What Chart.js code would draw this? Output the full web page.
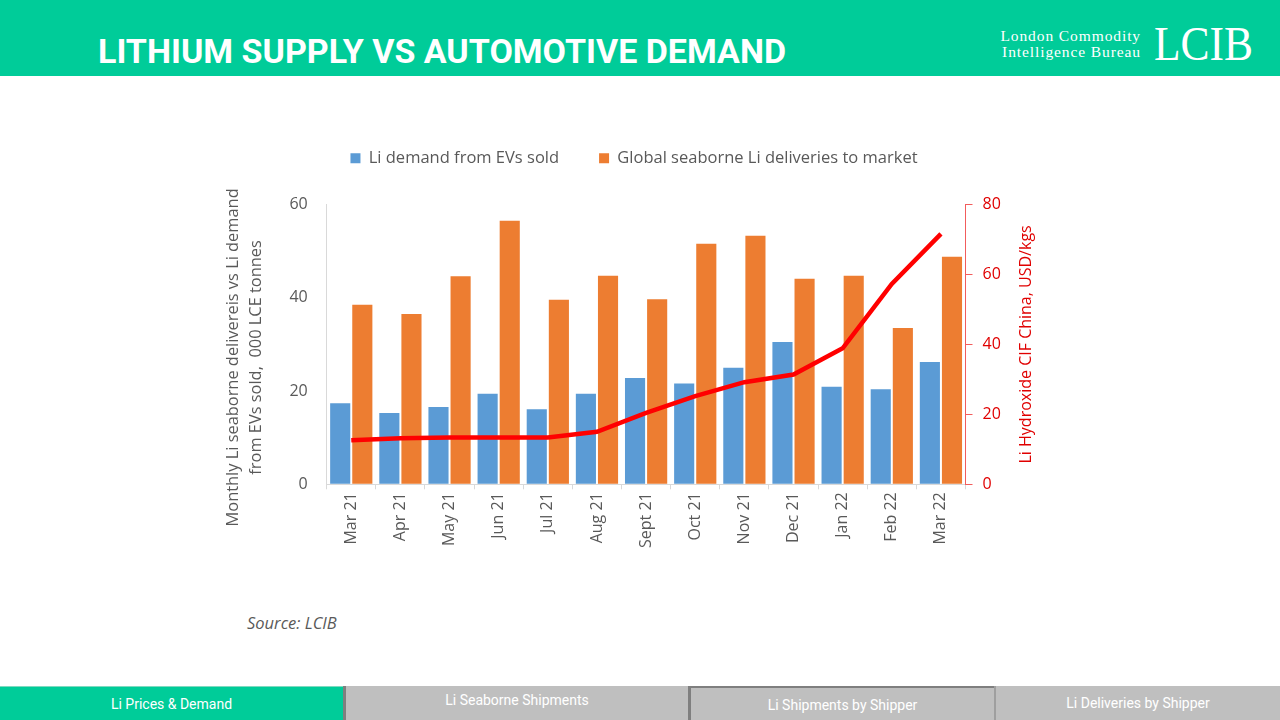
<!DOCTYPE html>
<html><head><meta charset="utf-8">
<script src="https://cdn.jsdelivr.net/npm/chart.js@4/dist/chart.umd.min.js"></script>
<style>
body{margin:0;width:1280px;height:720px;overflow:hidden;background:#fff;font-family:"Open Sans",sans-serif;position:relative}
#hdr{position:absolute;left:0;top:0;width:1280px;height:76px;background:#00CC99}
#title{position:absolute;left:98px;top:31px;font-weight:bold;font-size:34px;font-family:"Roboto",sans-serif;color:#fff;transform-origin:left top;white-space:nowrap;line-height:40px}
#logo1{position:absolute;left:980px;width:161px;top:28px;font-size:15.5px;font-family:"Liberation Serif",serif;color:#fff;text-align:right;line-height:16px;letter-spacing:0.9px}
#logo2{position:absolute;left:1154px;top:16px;font-size:48px;font-family:"Liberation Serif",serif;color:#fff;line-height:56px;transform-origin:left top}
#chartBox{position:absolute;left:210px;top:110px;width:884px;height:450px}
#src{position:absolute;left:247px;top:611px;font-style:italic;font-size:16.5px;color:#595959}
.tab{position:absolute;height:34px;line-height:34px;text-align:center;color:#fff;font-size:14px;font-family:"Roboto",sans-serif;box-sizing:border-box}
</style></head>
<body>
<div id="hdr"></div>
<div id="title">LITHIUM SUPPLY VS AUTOMOTIVE DEMAND</div>
<div id="logo1">London Commodity<br>Intelligence Bureau</div>
<div id="logo2">LCIB</div>
<div id="chartBox"><canvas id="c"></canvas></div>
<div id="src">Source: LCIB</div>
<div class="tab" style="left:0;top:686px;width:343px;background:#00CC99;border-top:1px solid #7fd9bf">Li Prices &amp; Demand</div>
<div class="tab" style="left:343px;top:686px;width:345px;background:#BFBFBF;border-left:3px solid #7f7f7f;line-height:28px">Li Seaborne Shipments</div>
<div class="tab" style="left:688px;top:686px;width:306px;background:#BFBFBF;border-left:3px solid #7f7f7f;border-top:2px solid #7f7f7f;">Li Shipments by Shipper</div>
<div class="tab" style="left:994px;top:686px;width:286px;background:#BFBFBF;border-left:2px solid #9f9f9f;">Li Deliveries by Shipper</div>
<script>
const months = ["Mar 21","Apr 21","May 21","Jun 21","Jul 21","Aug 21","Sept 21","Oct 21","Nov 21","Dec 21","Jan 22","Feb 22","Mar 22"];
const evDemand = [17.4,15.3,16.6,19.4,16.1,19.4,22.8,21.6,25.0,30.5,20.9,20.4,26.2];
const seaborne = [38.5,36.5,44.6,56.5,39.6,44.7,39.7,51.6,53.3,44.1,44.7,33.5,48.8];
const liPrice = [12.6,13.2,13.4,13.4,13.4,15.0,20.4,25.2,29.2,31.4,38.9,57.3,71.6];
const seriesNames = ["Li demand from EVs sold","Global seaborne Li deliveries to market","Li Hydroxide CIF China"];
const leftTitle = ["Monthly Li seaborne delivereis vs Li demand","from EVs sold,  000 LCE tonnes"];
const rightTitle = "Li Hydroxide CIF China, USD/kgs";

const grey = "#595959";
const redTxt = "#E00000";
const font = "'Open Sans', sans-serif";

const t = document.getElementById('title');
t.style.transform = 'scaleX(' + (688 / t.getBoundingClientRect().width) + ')';
const l2 = document.getElementById('logo2');
l2.style.transform = 'scaleX(' + (99 / l2.getBoundingClientRect().width) + ')';

const legendSpace = {id:'legendSpace', beforeInit(chart){
  const fit = chart.legend.fit;
  chart.legend.fit = function(){ fit.bind(chart.legend)(); this.height += 28; };
}};
const axisTitles = {id:'axisTitles', afterDraw(chart){
  const ctx = chart.ctx;
  const s1 = chart.scales.y1, s0 = chart.scales.y;
  ctx.save();
  ctx.font = "16px " + font;
  ctx.fillStyle = redTxt;
  ctx.textAlign = 'center'; ctx.textBaseline = 'middle';
  ctx.translate(s1.right - 4 - 11.2, (s1.top + s1.bottom) / 2);
  ctx.rotate(-Math.PI / 2);
  ctx.fillText(rightTitle, 0, 0);
  ctx.restore();
  ctx.save();
  ctx.font = "16.4px " + font;
  ctx.fillStyle = grey;
  ctx.textAlign = 'center'; ctx.textBaseline = 'middle';
  const cy = (s0.top + s0.bottom) / 2 + 13;
  leftTitle.forEach((line, i) => {
    ctx.save();
    ctx.translate(s0.left + 7.5 + i * 22.6, cy);
    ctx.rotate(-Math.PI / 2);
    ctx.fillText(line, 0, 0);
    ctx.restore();
  });
  ctx.restore();
}};

new Chart(document.getElementById('c'), {
  data: {
    labels: months,
    datasets: [
      {type:'bar', label: seriesNames[0], data: evDemand, backgroundColor:'#5B9BD5', yAxisID:'y', order:1, categoryPercentage:0.9, barPercentage:0.91},
      {type:'bar', label: seriesNames[1], data: seaborne, backgroundColor:'#ED7D31', yAxisID:'y', order:1, categoryPercentage:0.9, barPercentage:0.91},
      {type:'line', label: seriesNames[2], data: liPrice, borderColor:'#FF0000', backgroundColor:'#FF0000', borderWidth:4.5, pointRadius:0, tension:0, yAxisID:'y1', order:0}
    ]
  },
  options: {
    responsive:true, maintainAspectRatio:false, animation:false, devicePixelRatio:1,
    layout:{padding:{left:16,right:52,top:0,bottom:9}},
    plugins:{
      legend:{position:'top', labels:{font:{family:font,size:16.5}, color:grey, boxWidth:10, boxHeight:10, padding:40,
        filter:(item)=>item.datasetIndex!==2}},
      tooltip:{enabled:false}
    },
    scales:{
      x:{offset:true,
        grid:{display:true, drawOnChartArea:false, offset:true, tickLength:5, color:'#D9D9D9'},
        border:{color:'#D9D9D9'},
        ticks:{minRotation:90, maxRotation:90, color:grey, font:{family:font,size:16}, padding:3}},
      y:{position:'left', min:0, max:60,
        grid:{display:true, drawOnChartArea:false, drawTicks:false, color:'#D9D9D9'},
        border:{color:'#D9D9D9'},
        ticks:{stepSize:20, color:grey, font:{family:font,size:16}, padding:19},
        title:{display:true, text:leftTitle, color:'rgba(0,0,0,0)', font:{family:font,size:16}, padding:{top:0,bottom:6}}},
      y1:{position:'right', min:0, max:80,
        grid:{display:true, drawOnChartArea:false, tickLength:7, color:'#F25C5C'},
        border:{color:'#F25C5C'},
        ticks:{stepSize:20, color:redTxt, font:{family:font,size:16}, padding:10},
        title:{display:true, text:rightTitle, color:'rgba(0,0,0,0)', font:{family:font,size:16}, padding:{top:4,bottom:8}}}
    }
  },
  plugins:[legendSpace, axisTitles]
});
</script>
</body></html>
